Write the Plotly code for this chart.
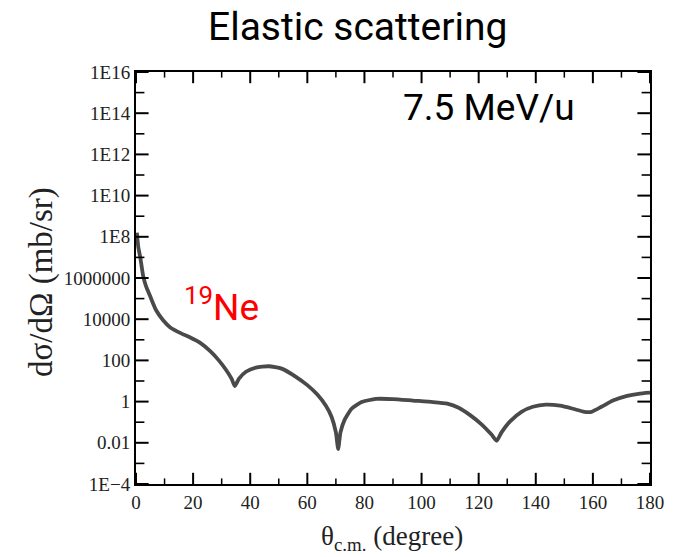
import plotly.graph_objects as go

# Data (angle in degrees, cross-section in mb/sr)
theta_cm = [0.3, 0.8, 1.5, 2.5, 3.5, 5.0, 7.0, 9.5, 12.0, 16.0, 19.0, 22.5, 26.0, 29.0,
            31.5, 33.5, 34.6, 36.0, 38.5, 42.0, 46.5, 51.0, 56.0, 60.0, 63.5, 66.5, 68.5,
            70.0, 70.8, 71.6, 73.0, 75.5, 79.0, 84.0, 90.0, 97.0, 104.0, 109.0, 113.0,
            117.0, 121.0, 124.5, 126.3, 128.0, 131.0, 135.0, 139.0, 143.5, 148.5, 153.0,
            157.0, 159.5, 163.0, 167.0, 172.0, 176.0, 180.0]
dsigma = [1.6e8, 3.2e7, 1.0e7, 1.26e6, 4.0e5, 1.26e5, 2.8e4, 8.9e3, 4.0e3, 2.0e3, 1.3e3,
          710, 280, 100, 35, 12.6, 5.6, 12.6, 28, 45, 52, 40, 16, 6.3, 2.2, 0.63, 0.18,
          0.032, 0.005, 0.032, 0.126, 0.45, 0.95, 1.35, 1.32, 1.12, 0.95, 0.79, 0.5,
          0.22, 0.079, 0.025, 0.0126, 0.032, 0.11, 0.32, 0.56, 0.71, 0.63, 0.45,
          0.32, 0.32, 0.56, 1.12, 1.9, 2.4, 2.7]

y_tickvals = [1e-4, 1e-2, 1, 1e2, 1e4, 1e6, 1e8, 1e10, 1e12, 1e14, 1e16]
y_ticktext = ["1E\u22124", "0.01", "1", "100", "10000", "1000000", "1E8", "1E10", "1E12", "1E14", "1E16"]
y_minorvals = [1e-3, 1e-1, 10, 1e3, 1e5, 1e7, 1e9, 1e11, 1e13, 1e15]
x_tickvals = [0, 20, 40, 60, 80, 100, 120, 140, 160, 180]
x_minorvals = [10, 30, 50, 70, 90, 110, 130, 150, 170]
x_range = [0, 180]
y_range_log = [-4, 16]

serif = "Liberation Serif, Times New Roman, serif"
sans = "Roboto, Arial, sans-serif"

fig = go.Figure()
fig.add_trace(go.Scatter(
    x=theta_cm, y=dsigma, mode="lines",
    line=dict(color="#4a4a4a", width=3.8, shape="spline", smoothing=0.5),
    showlegend=False, hoverinfo="skip"))

# Inside tick marks on all four sides (drawn as markers clipped by the plot area)
y_lo, y_hi = 10 ** y_range_log[0], 10 ** y_range_log[1]
def tick_trace(xs, ys, symbol, size, width):
    return go.Scatter(x=xs, y=ys, mode="markers", cliponaxis=True,
                      marker=dict(symbol=symbol, size=size,
                                  line=dict(color="black", width=width)),
                      showlegend=False, hoverinfo="skip")

for yy in (y_lo, y_hi):
    fig.add_trace(tick_trace(x_tickvals, [yy] * len(x_tickvals), "line-ns", 16, 2))
    fig.add_trace(tick_trace(x_minorvals, [yy] * len(x_minorvals), "line-ns", 8, 1.5))
for xx in x_range:
    fig.add_trace(tick_trace([xx] * len(y_tickvals), y_tickvals, "line-ew", 18, 2))
    fig.add_trace(tick_trace([xx] * len(y_minorvals), y_minorvals, "line-ew", 12, 1.6))

fig.update_xaxes(range=x_range, tickmode="array", tickvals=x_tickvals,
                 ticks="", showline=True, linecolor="black", linewidth=2, mirror=True,
                 showgrid=False, zeroline=False,
                 tickfont=dict(family=serif, size=19, color="#222"))
fig.update_yaxes(type="log", range=y_range_log, tickmode="array",
                 tickvals=y_tickvals, ticktext=y_ticktext,
                 ticks="", showline=True, linecolor="black", linewidth=2, mirror=True,
                 showgrid=False, zeroline=False,
                 tickfont=dict(family=serif, size=19, color="#222"))

fig.update_layout(
    width=683, height=557,
    margin=dict(l=136, r=33, t=72, b=73),
    paper_bgcolor="white", plot_bgcolor="white",
    annotations=[
        dict(text="Elastic scattering", x=0.43, y=1.109, xref="paper", yref="paper",
             xanchor="center", yanchor="middle", showarrow=False,
             font=dict(family=sans, size=39, color="black")),
        dict(text="7.5 MeV/u", x=0.687, y=0.913, xref="paper", yref="paper",
             xanchor="center", yanchor="middle", showarrow=False,
             font=dict(family=sans, size=37, color="black")),
        dict(text="<sup>19</sup>Ne", x=0.0894, y=0.435, xref="paper", yref="paper",
             xanchor="left", yanchor="middle", showarrow=False,
             font=dict(family=sans, size=37, color="red")),
        dict(text="d\u03c3/d\u03a9 (mb/sr)", x=-0.185, y=0.49, xref="paper", yref="paper",
             xanchor="center", yanchor="middle", showarrow=False, textangle=-90,
             font=dict(family=serif, size=33, color="#222")),
        dict(text="\u03b8<sub>c.m.</sub> (degree)", x=0.498, y=-0.13, xref="paper", yref="paper",
             xanchor="center", yanchor="middle", showarrow=False,
             font=dict(family=serif, size=27, color="#222")),
    ],
)

fig.write_html("out.html")
